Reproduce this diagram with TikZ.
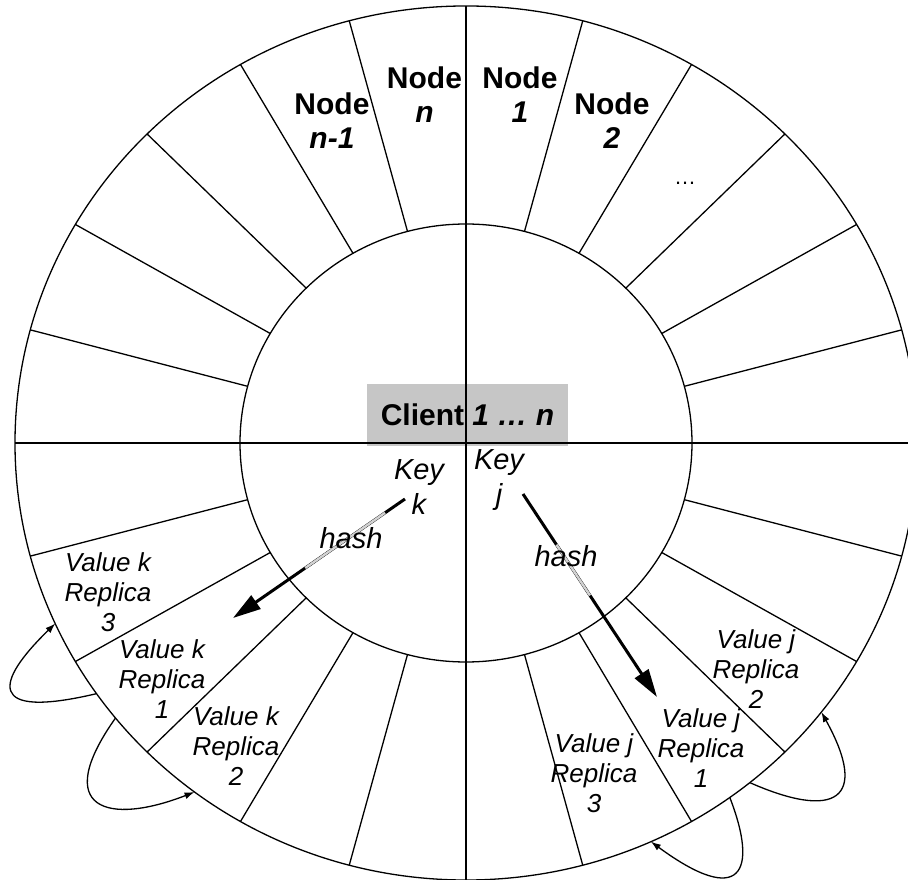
\documentclass[tikz,border=0pt]{standalone}
\usepackage{fontspec}
\setmainfont{Liberation Sans}
\usetikzlibrary{arrows.meta,calc}
\begin{document}
\begin{tikzpicture}[x=1pt,y=1pt,
  ringline/.style={line width=1.3pt, black},
  nodelabel/.style={font=\fontsize{30}{34}\selectfont\bfseries, align=center, inner sep=0pt},
  replabel/.style={font=\fontsize{26}{30}\selectfont\itshape, align=center, inner sep=0pt},
  keylabel/.style={font=\fontsize{29}{35}\selectfont\itshape, align=center, inner sep=0pt},
  hasharrow/.style={line width=3pt, -{Triangle[length=28pt,width=16pt]}},
  fadeseg/.style={line width=2.4pt, gray!35},
  looparrow/.style={line width=1.3pt, -{Latex[length=10pt,width=7pt]}}]
\useasboundingbox (-466,-437) rectangle (442,443);
\clip (-466,-437) rectangle (442,443);
% client box
\node[fill=gray!45, minimum width=201pt, minimum height=62pt, inner sep=0pt,
      font=\fontsize{30}{34}\selectfont\bfseries] (client) at (1.5,28) {Client \textit{1 … n}};
% ring
\begin{scope}[yscale=0.969]
  \draw[ringline] (0,0) circle (451);
  \draw[ringline] (0,0) circle (226);
  \foreach \a in {15,30,...,345}{
    \draw[ringline] (\a:226) -- (\a:451);
  }
  \draw[ringline] (-451,0) -- (470,0);
  \draw[ringline] (0,-451) -- (0,451);
  \coordinate (l1s) at (215:451);
  \coordinate (l1e) at (204.4:451);
  \coordinate (l2s) at (219:451);
  \coordinate (l2e) at (233:451);
  \coordinate (rAs) at (309:451);
  \coordinate (rAe) at (322:451);
  \coordinate (rBs) at (305.8:451);
  \coordinate (rBe) at (294.2:451);
\end{scope}
% node labels
\node[nodelabel] (nnm1) at (-134,322.5) {Node\\\textit{n-1}};
\node[nodelabel] (nn) at (-41.5,348.5) {Node\\\textit{n}};
\node[nodelabel] (n1) at (54,348.5) {Node\\\textit{1}};
\node[nodelabel] (n2) at (146,322) {Node\\\textit{2}};
\node[inner sep=0pt, font=\fontsize{22}{22}\selectfont] (dots) at (219,260) {…};
% keys
\node[keylabel] (keyk) at (-47,-44) {Key\\k};
\node[keylabel] (keyj) at (33,-37) {Key\\j};
% hash arrows
\coordinate (ks) at (-61,-56);
\coordinate (kt) at (-233,-175);
\draw[hasharrow] (ks) -- (kt);
\draw[fadeseg] ($(ks)!0.116!(kt)$) -- ($(ks)!0.58!(kt)$);
\coordinate (js) at (57,-51);
\coordinate (jt) at (191,-254);
\draw[hasharrow] (js) -- (jt);
\draw[fadeseg] ($(js)!0.25!(jt)$) -- ($(js)!0.5!(jt)$);
\node[keylabel] (hashk) at (-115,-95.5) {hash};
\node[keylabel] (hashj) at (100,-113) {hash};
% replica labels
\node[replabel] (vk3) at (-358,-149) {Value k\\Replica\\3};
\node[replabel] (vk1) at (-304,-236) {Value k\\Replica\\1};
\node[replabel] (vk2) at (-230,-303) {Value k\\Replica\\2};
\node[replabel] (vj2) at (290,-226) {Value j\\Replica\\2};
\node[replabel] (vj1) at (235,-305) {Value j\\Replica\\1};
\node[replabel] (vj3) at (128,-330) {Value j\\Replica\\3};
% replication loops
\draw[looparrow] (l1s) .. controls (-481,-277) and (-470.6,-238.6) .. (l1e);
\draw[looparrow] (l2s) .. controls (-415.7,-367.2) and (-357.6,-382.6) .. (l2e);
\draw[looparrow] (rAs) .. controls (368.8,-377.1) and (404,-357) .. (rAe);
\draw[looparrow] (rBs) .. controls (292.8,-429.4) and (275.1,-464.9) .. (rBe);
\end{tikzpicture}
\end{document}
